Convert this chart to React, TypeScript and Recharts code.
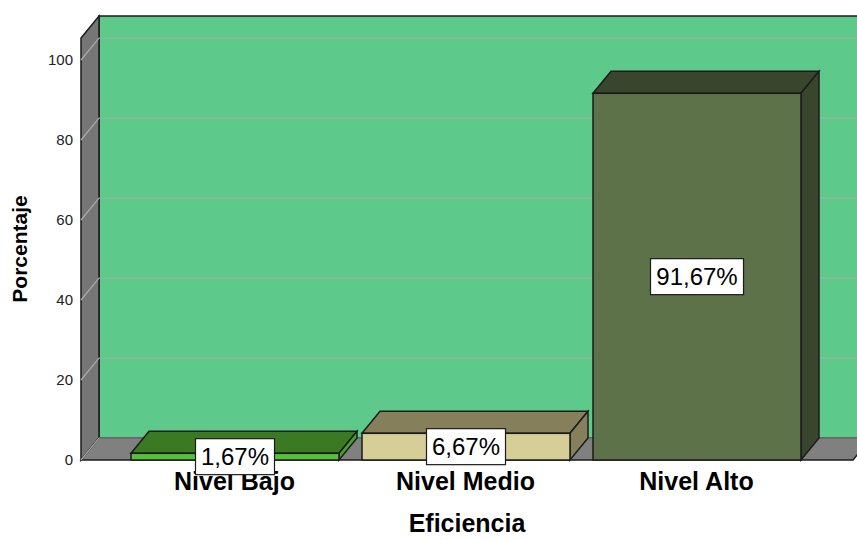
import { BarChart, Bar, XAxis, YAxis, ReferenceArea, ReferenceLine, LabelList } from "recharts"

const categories = ["Nivel Bajo", "Nivel Medio", "Nivel Alto"]
const percentages = [1.67, 6.67, 91.67]
const yTicks = [0, 20, 40, 60, 80, 100]

const data = categories.map((name, i) => ({ name, value: percentages[i] }))

// 3D look: depth offset of the back plane
const DX = 18
const DY = -22
// category axis padding (the walls span the padded part too)
const PAD_L = 38
const PAD_R = 41

const FONT = "'Liberation Sans', Arial, sans-serif"
const EDGE = "#1b1b1b"

const BAR_COLORS = [
  { front: "#55c23b", top: "#3b7a22", side: "#47a02f" },
  { front: "#d5cf97", top: "#85805b", side: "#85805b" },
  { front: "#5d7249", top: "#3a452d", side: "#3a452d" },
]

function fmtPct(v: number) {
  return `${v.toFixed(2).replace(".", ",")}%`
}

function Walls(props: any) {
  const x = props.x - PAD_L
  const width = props.width + PAD_L + PAD_R
  const { y, height } = props
  const b = y + height
  return (
    <g>
      <rect x={x + DX} y={y + DY} width={width} height={height} fill="#5dca8b" stroke={EDGE} strokeWidth={1.5} />
      <polygon
        points={`${x},${b} ${x},${y} ${x + DX},${y + DY} ${x + DX},${b + DY}`}
        fill="#767676"
        stroke={EDGE}
        strokeWidth={1.5}
      />
      <polygon
        points={`${x},${b} ${x + DX},${b + DY} ${x + width + DX},${b + DY} ${x + width},${b}`}
        fill="#808080"
        stroke={EDGE}
        strokeWidth={1.5}
      />
    </g>
  )
}

function GridLine(props: any) {
  const { x1, y1, x2 } = props
  if (x1 == null) return null
  return (
    <polyline
      points={`${x1},${y1} ${x1 + DX},${y1 + DY} ${x2 + DX},${y1 + DY}`}
      fill="none"
      stroke="#aaaaaa"
      strokeWidth={1.2}
    />
  )
}

function Box3D(props: any) {
  const { x, y, width, height, index } = props
  const c = BAR_COLORS[index] || BAR_COLORS[0]
  const b = y + height
  const r = x + width
  return (
    <g>
      <polygon
        points={`${x},${y} ${x + DX},${y + DY} ${r + DX},${y + DY} ${r},${y}`}
        fill={c.top}
        stroke={EDGE}
        strokeWidth={1.5}
      />
      <polygon
        points={`${r},${y} ${r + DX},${y + DY} ${r + DX},${b + DY} ${r},${b}`}
        fill={c.side}
        stroke={EDGE}
        strokeWidth={1.5}
      />
      <rect x={x} y={y} width={width} height={height} fill={c.front} stroke={EDGE} strokeWidth={1.5} />
    </g>
  )
}

function ValueBox(props: any) {
  const { x, y, width, height, value } = props
  const text = fmtPct(Number(value))
  const w = text.length * 14 + 9
  const h = 36
  const cx = x + width / 2
  const cy = y + height / 2
  return (
    <g>
      <rect x={cx - w / 2} y={cy - h / 2} width={w} height={h} fill="#ffffff" stroke={EDGE} strokeWidth={1.2} />
      <text x={cx} y={cy + 8} textAnchor="middle" fontFamily={FONT} fontSize={24} fill="#000">
        {text}
      </text>
    </g>
  )
}

function XTick(props: any) {
  const { x, y, payload } = props
  return (
    <text x={x} y={y} dy={22} textAnchor="middle" fontFamily={FONT} fontSize={25} fontWeight="bold" fill="#000">
      {payload.value}
    </text>
  )
}

function YTick(props: any) {
  const { x, y, payload } = props
  return (
    <text x={x} y={y} dy={5} textAnchor="end" fontFamily={FONT} fontSize={15} fill="#222">
      {payload.value}
    </text>
  )
}

export default function App() {
  return (
    <div style={{ position: "absolute", left: 0, top: 0, background: "#fff" }}>
      <BarChart width={857} height={540} data={data} margin={{ top: 38, right: 4, left: 0, bottom: 0 }}>
        <ReferenceArea y1={0} y2={105.5} shape={<Walls />} ifOverflow="visible" zIndex={-300} />
        {yTicks.map((t) => (
          <ReferenceLine key={t} y={t} shape={<GridLine />} ifOverflow="visible" zIndex={-250} />
        ))}
        <XAxis
          dataKey="name"
          axisLine={false}
          tickLine={false}
          height={80}
          padding={{ left: PAD_L, right: PAD_R }}
          tick={<XTick />}
          label={{
            content: ({ viewBox }: any) => (
              <text
                x={viewBox.x + viewBox.width / 2}
                y={532}
                textAnchor="middle"
                fontFamily={FONT}
                fontSize={25}
                fontWeight="bold"
                fill="#000"
              >
                Eficiencia
              </text>
            ),
          }}
        />
        <YAxis
          domain={[0, 105.5]}
          ticks={yTicks}
          axisLine={false}
          tickLine={false}
          width={81}
          tick={<YTick />}
          label={{
            content: ({ viewBox }: any) => {
              const cy = viewBox.y + viewBox.height / 2
              return (
                <text
                  x={0}
                  y={0}
                  transform={`translate(27, ${cy}) rotate(-90)`}
                  textAnchor="middle"
                  fontFamily={FONT}
                  fontSize={21}
                  fontWeight="bold"
                  fill="#000"
                >
                  Porcentaje
                </text>
              )
            },
          }}
        />
        <Bar dataKey="value" barSize={208} shape={<Box3D />} isAnimationActive={false}>
          <LabelList dataKey="value" content={<ValueBox />} />
        </Bar>
      </BarChart>
    </div>
  )
}
